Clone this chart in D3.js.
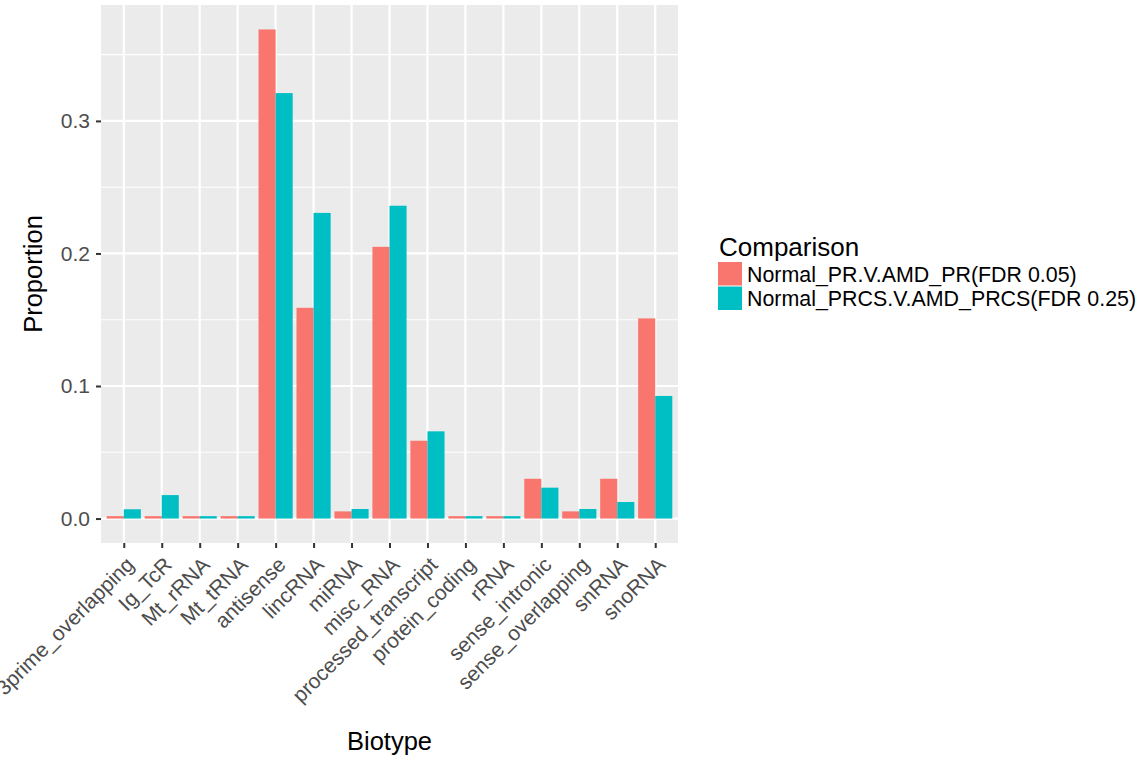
<!DOCTYPE html>
<html>
<head>
<meta charset="utf-8">
<script src="https://cdn.jsdelivr.net/npm/d3@7"></script>
<style>
  body { margin: 0; background: #fff; }
  svg { display: block; font-family: "Liberation Sans", Arial, Helvetica, sans-serif; }
</style>
</head>
<body>
<script>
const biotypes = ["3prime_overlapping", "Ig_TcR", "Mt_rRNA", "Mt_tRNA", "antisense", "lincRNA",
  "miRNA", "misc_RNA", "processed_transcript", "protein_coding", "rRNA", "sense_intronic",
  "sense_overlapping", "snRNA", "snoRNA"];
const comparisons = ["Normal_PR.V.AMD_PR(FDR 0.05)", "Normal_PRCS.V.AMD_PRCS(FDR 0.25)"];
const prValues   = [0.0018, 0.0018, 0.0018, 0.0018, 0.369, 0.159, 0.0054, 0.205, 0.0587, 0.0018, 0.0018, 0.030, 0.0054, 0.030, 0.151];
const prcsValues = [0.0070, 0.0177, 0.0018, 0.0018, 0.321, 0.2306, 0.0072, 0.236, 0.0658, 0.0018, 0.0018, 0.0233, 0.0072, 0.0125, 0.0925];
const yTicks = [0, 0.1, 0.2, 0.3];
const colors = ["#F8766D", "#00BFC4"];

const W = 1142, H = 761;
const panel = {left: 101, right: 678, top: 5, bottom: 543};

const svg = d3.select("body").append("svg").attr("width", W).attr("height", H);

const maxV = d3.max(prValues.concat(prcsValues));
const pad = maxV * 0.05;
const y = d3.scaleLinear().domain([-pad, maxV + pad]).range([panel.bottom, panel.top]);
const x = d3.scalePoint().domain(biotypes).range([panel.left, panel.right]).padding(0.6);
const step = x.step();
const barW = step * 0.45;

// panel background
svg.append("rect")
  .attr("x", panel.left).attr("y", panel.top)
  .attr("width", panel.right - panel.left).attr("height", panel.bottom - panel.top)
  .attr("fill", "#EBEBEB");

// minor grid
const minor = [0.05, 0.15, 0.25, 0.35];
svg.append("g").selectAll("line").data(minor).join("line")
  .attr("x1", panel.left).attr("x2", panel.right)
  .attr("y1", d => y(d)).attr("y2", d => y(d))
  .attr("stroke", "#fff").attr("stroke-width", 1.1);

// major grid
svg.append("g").selectAll("line").data(yTicks).join("line")
  .attr("x1", panel.left).attr("x2", panel.right)
  .attr("y1", d => y(d)).attr("y2", d => y(d))
  .attr("stroke", "#fff").attr("stroke-width", 2.2);
svg.append("g").selectAll("line").data(biotypes).join("line")
  .attr("x1", d => x(d)).attr("x2", d => x(d))
  .attr("y1", panel.top).attr("y2", panel.bottom)
  .attr("stroke", "#fff").attr("stroke-width", 2.2);

// bars
const series = [prValues, prcsValues];
series.forEach((vals, si) => {
  svg.append("g").selectAll("rect").data(biotypes).join("rect")
    .attr("x", d => x(d) - barW + si * barW)
    .attr("width", barW)
    .attr("y", (d, i) => y(vals[i]))
    .attr("height", (d, i) => y(0) - y(vals[i]))
    .attr("fill", colors[si]);
});

// y axis
const yAxis = svg.append("g")
  .attr("transform", "translate(" + panel.left + ",0)")
  .call(d3.axisLeft(y).tickValues(yTicks).tickFormat(d3.format(".1f")).tickSize(5).tickPadding(6));
yAxis.select(".domain").remove();
yAxis.selectAll(".tick line").attr("stroke", "#333").attr("stroke-width", 2);
yAxis.selectAll("text").attr("fill", "#4D4D4D").style("font-size", "21px");

// x axis
const xAxis = svg.append("g")
  .attr("transform", "translate(0," + panel.bottom + ")")
  .call(d3.axisBottom(x).tickSize(5));
xAxis.select(".domain").remove();
xAxis.selectAll(".tick line").attr("stroke", "#333").attr("stroke-width", 2);
xAxis.selectAll("text")
  .attr("fill", "#4D4D4D")
  .style("font-size", "21px")
  .attr("text-anchor", "end")
  .attr("y", 0).attr("dy", 0)
  .attr("transform", "translate(11,23) rotate(-45)");

// axis titles
svg.append("text")
  .attr("x", (panel.left + panel.right) / 2).attr("y", 750)
  .attr("text-anchor", "middle").style("font-size", "25.5px")
  .text("Biotype");
svg.append("text")
  .attr("transform", "translate(42," + (panel.top + panel.bottom) / 2 + ") rotate(-90)")
  .attr("text-anchor", "middle").style("font-size", "25.5px")
  .text("Proportion");

// legend
const lg = svg.append("g").attr("transform", "translate(718,0)");
lg.append("text").attr("x", 1).attr("y", 256).style("font-size", "26px").text("Comparison");
comparisons.forEach((c, i) => {
  lg.append("rect").attr("x", 0).attr("y", 262 + i * 24.5).attr("width", 24).attr("height", 23.5)
    .attr("fill", colors[i]);
  lg.append("text").attr("x", 29).attr("y", 274 + i * 24.5).attr("dy", "0.36em")
    .style("font-size", "21.4px").text(c);
});
</script>
</body>
</html>
